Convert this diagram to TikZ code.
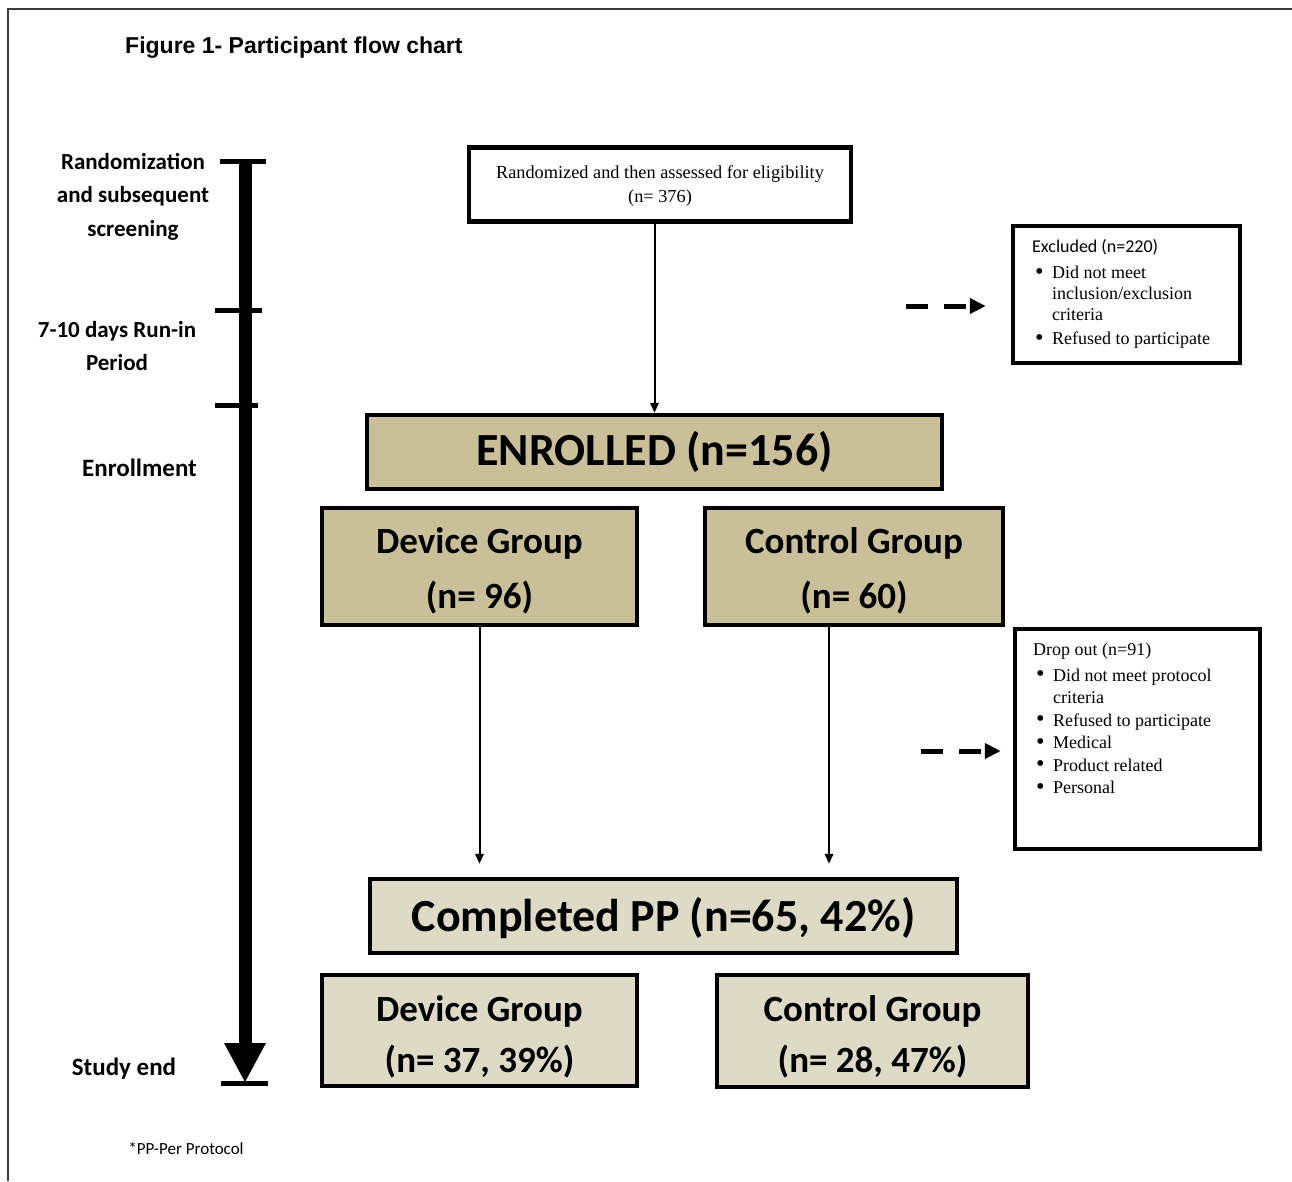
\documentclass[tikz,border=0pt]{standalone}
\usepackage{fontspec}
\usepackage{graphicx}
\setmainfont{Liberation Serif}
\newfontfamily\calfont{Carlito}
\newfontfamily\tmsfont{Liberation Serif}
\newfontfamily\arlfont{Liberation Sans}
\usetikzlibrary{arrows.meta,calc}
\definecolor{tanA}{HTML}{C9BF99}
\definecolor{tanB}{HTML}{DEDAC6}
\definecolor{framegray}{HTML}{3C3C3C}
\newcommand{\bul}{\makebox[20pt][l]{\hspace{3pt}\raisebox{-0.5pt}{\scalebox{1.35}{\textbullet}}}}
\newcommand{\ind}{\hspace*{20pt}}
\newcommand{\twol}[3]{\raisebox{#1}[\height][\depth]{\begin{tabular}{@{}c@{}}#2\\#3\end{tabular}}}
\newcommand{\onel}[2]{\raisebox{#1}[\height][\depth]{#2}}
\begin{document}
\begin{tikzpicture}[x=1pt,y=-1pt,
  box/.style={draw, line width=4.5pt, inner sep=0pt},
  tanbox/.style={box, fill=tanA, align=center, font=\calfont\bfseries},
  lighttan/.style={box, fill=tanB, align=center, font=\calfont\bfseries},
  conn/.style={line width=2pt, -{Triangle[length=10pt,width=8.5pt]}},
  dasharr/.style={line width=5pt, dash pattern=on 22pt off 16pt, -{Triangle[length=16pt,width=15pt]}},
  tick/.style={line width=5pt},
  tlabel/.style={align=center, inner sep=0pt, font=\calfont\bfseries\fontsize{23}{33.5}\selectfont},
  listtext/.style={anchor=north west, align=left, inner sep=0pt}]
\useasboundingbox (0,0) rectangle (1292,1181);
% frame
\draw[framegray, line width=2pt] (8,1181) -- (8,9) -- (1292,9);
% title
\node[anchor=base west, inner sep=0pt, font=\arlfont\bfseries\fontsize{23}{27}\selectfont] (title) at (125,53) {Figure 1- Participant flow chart};
% timeline
\fill (239,161) rectangle (252,1046);
\fill (224,1043) -- (266,1043) -- (245,1082) -- cycle;
\draw[tick] (220,161) -- (266,161);
\draw[tick] (215,310) -- (262,310);
\draw[tick] (215,405) -- (258,405);
\draw[tick] (221,1083) -- (268,1083);
\node[tlabel] (lblA) at (133,196.5) {Randomization\\and subsequent\\screening};
\node[tlabel] (lblB) at (117,346) {7-10 days Run-in\\Period};
\node[tlabel, font=\calfont\bfseries\fontsize{25}{30}\selectfont] (lblC) at (139.5,468) {Enrollment};
\node[tlabel, font=\calfont\bfseries\fontsize{25}{30}\selectfont] (lblD) at (124,1069) {Study end};
\node[inner sep=0pt, font=\calfont\fontsize{17}{19}\selectfont] (note) at (186,1149) {*PP-Per Protocol};
% boxes
\node[box, minimum width=382pt, minimum height=74pt, font=\tmsfont\fontsize{18.3}{24}\selectfont] (top) at (660,184.5) {\twol{-1pt}{Randomized and then assessed for eligibility}{(n= 376)}};
\node[box, minimum width=227pt, minimum height=137pt] (excl) at (1126.5,294.5) {};
\node[listtext, font=\tmsfont\fontsize{18}{21}\selectfont] (excltxt) at (1032,239.5) {{\calfont Excluded (n=220)}\\[5pt]
\bul Did not meet\\
\ind inclusion/exclusion\\
\ind criteria\\[3pt]
\bul Refused to participate};
\node[tanbox, minimum width=575pt, minimum height=74pt, font=\calfont\bfseries\fontsize{46}{50}\selectfont] (enr) at (654.5,452) {ENROLLED (n=156)};
\node[tanbox, minimum width=315pt, minimum height=117pt, font=\calfont\bfseries\fontsize{37}{55}\selectfont] (dev1) at (479.5,566.5) {\twol{-3pt}{Device Group}{(n= 96)}};
\node[tanbox, minimum width=298pt, minimum height=117pt, font=\calfont\bfseries\fontsize{37}{55}\selectfont] (ctl1) at (854,566.5) {\twol{-3pt}{Control Group}{(n= 60)}};
\node[box, minimum width=245pt, minimum height=220pt] (drop) at (1137.5,739) {};
\node[listtext, font=\tmsfont\fontsize{18}{22.5}\selectfont] (droptxt) at (1033,643) {Drop out (n=91)\\[3pt]
\bul Did not meet protocol\\
\ind criteria\\
\bul Refused to participate\\
\bul Medical\\
\bul Product related\\
\bul Personal};
\node[lighttan, minimum width=587pt, minimum height=74pt, font=\calfont\bfseries\fontsize{46}{50}\selectfont] (comp) at (663.5,916) {\onel{-2pt}{Completed PP (n=65, 42\%)}};
\node[lighttan, minimum width=315pt, minimum height=111pt, font=\calfont\bfseries\fontsize{37}{51}\selectfont] (dev2) at (479.5,1030.5) {\twol{-6pt}{Device Group}{(n= 37, 39\%)}};
\node[lighttan, minimum width=311pt, minimum height=112pt, font=\calfont\bfseries\fontsize{37}{51}\selectfont] (ctl2) at (872.5,1031) {\twol{-6pt}{Control Group}{(n= 28, 47\%)}};
% connectors
\draw[conn] (top.south -| enr.north) -- (enr.north);
\draw[conn, shorten >=13pt] (dev1.south) -- (dev1.south |- comp.north);
\coordinate (c1) at ($(ctl1.south)+(-25,0)$);
\draw[conn, shorten >=13pt] (c1) -- (c1 |- comp.north);
\coordinate (ex0) at (906,306);
\draw[dasharr, shorten >=25pt] (ex0) -- (ex0 -| excl.west);
\coordinate (dr0) at (921,751);
\draw[dasharr, shorten >=12pt] (dr0) -- (dr0 -| drop.west);
\end{tikzpicture}
\end{document}
